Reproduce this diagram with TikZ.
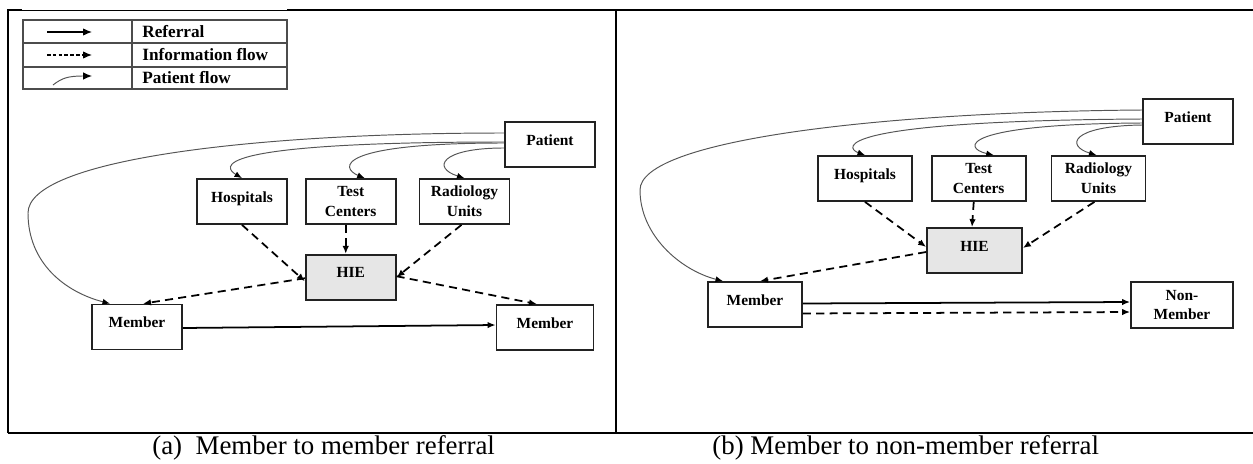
\documentclass[tikz,border=0pt]{standalone}
\usepackage{fontspec}
\setmainfont{Liberation Serif}
\usepackage{tikz}
\usetikzlibrary{arrows.meta}
\usetikzlibrary{calc}
\usetikzlibrary{positioning}
\definecolor{tikz-block}{HTML}{222222}
\definecolor{tikz-hie}{HTML}{E6E6E6}
\definecolor{tikz-flow}{HTML}{555555}
\tikzset{node distance=0.6cm, auto, every text node part/.style={align=center, font={\bfseries\fontsize{8.8}{11.3}\selectfont}}}
\tikzstyle{ln} = [draw, line width=1pt, -{Latex[length=1.6mm, width=1.3mm]}]
\tikzstyle{info} = [ln, dash pattern=on 4.6pt off 3pt]
\tikzstyle{pf} = [draw=tikz-flow, line width=0.55pt, -{Latex[length=1.5mm, width=1.2mm, color=black]}]
\tikzstyle{frame} = [draw=black, line width=1.2pt]
\tikzstyle{legend-line} = [draw=black!70, line width=0.6pt]

\begin{document}
\begin{tikzpicture}[
        x=0.02cm, y=-0.02cm,
        wide-block/.style={rectangle, draw=tikz-block, fill=white, line width=1pt, minimum width=1.8cm, minimum height=0.9cm, inner sep=0pt},
        one-line/.style={text height=0.21cm, text depth=0.19cm},
        hie-block/.style={wide-block, one-line, fill=tikz-hie},
        legend-text/.style={anchor=west, inner sep=0pt, every text node part/.style={align=left, font={\bfseries\fontsize{9.8}{11}\selectfont}}},
        caption-text/.style={anchor=base west, inner sep=0pt, every text node part/.style={align=left, font={\fontsize{15.3}{18}\selectfont}}}
      ]
      \useasboundingbox (0,0) rectangle (1253,463);
      % frame
      \draw[frame] (8,433) -- (8,10) -- (22,10);
      \draw[frame] (287,10) -- (1253,10);
      \draw[line width=0.5pt] (22,10) -- (287,10);
      \draw[frame] (616,10) -- (616,433);
      \draw[frame] (8,433) -- (1253,433);

      % legend
      \draw[legend-line] (23,20) rectangle (287,89);
      \draw[legend-line] (23,43) -- (287,43) (23,67) -- (287,67) (132,20) -- (132,89);
      \coordinate (ref-s) at (47,32);   \coordinate (ref-e) at (92,32);
      \coordinate (inf-s) at (47,55);   \coordinate (inf-e) at (92,55);
      \coordinate (pfl-s) at (53,85);   \coordinate (pfl-e) at (92,76);
      \draw[ln, line width=0.7pt, -{Latex[length=1.8mm, width=1.5mm]}]  (ref-s) -- (ref-e);
      \draw[ln, line width=0.7pt, dash pattern=on 2pt off 1.3pt, -{Latex[length=1.8mm, width=1.5mm]}] (inf-s) -- (inf-e);
      \draw[pf, -{Latex[length=1.8mm, width=1.5mm, color=black]}]        (pfl-s) .. controls (62,78) and (68,76) .. (pfl-e);
      \node[legend-text] (ref-t) at (142,31.5) {Referral};
      \node[legend-text] (inf-t) at (142,55)   {Information flow};
      \node[legend-text] (pfl-t) at (142,78)   {Patient flow};

      % panel (a)
      \node[wide-block, one-line]        (pat-a)  at (550,144.5)          {Patient};
      \node[wide-block, one-line]        (hos-a)  at (242,201.5)          {Hospitals};
      \node[wide-block]                  (tc-a)   [right=0.34cm of hos-a] {Test\\Centers};
      \node[wide-block]                  (rad-a)  [right=0.44cm of tc-a]  {Radiology\\Units};
      \node[hie-block]                   (hie-a)  [below=0.58cm of tc-a]  {HIE};
      \node[wide-block, one-line]        (mem-a)  at (137,327)            {Member};
      \node[wide-block, one-line, minimum width=1.94cm] (mem-a2) at (545,327.5) {Member};
      \draw[pf]   ($(pat-a.west)+(0,-11.5)$) .. controls (250,133) and (28,160) .. (28,213)
                  .. controls (28,263) and (65,292) .. ($(mem-a.north)+(-27,0)$);
      \draw[pf]   ($(pat-a.west)+(0,-2.5)$)  .. controls (200,142) and (225,168) .. (hos-a.north);
      \draw[pf]   ($(pat-a.west)+(0,-1.5)$)  .. controls (335,143) and (340,168) .. ($(tc-a.north)+(14,0)$);
      \draw[pf]   ($(pat-a.west)+(0,3.5)$)   .. controls (440,148) and (432,168) .. (rad-a.north);
      \draw[info] (hos-a.south)              -- ($(hie-a.west)+(0,4)$);
      \draw[info] ($(tc-a.south)+(-5,0)$)    -- ($(hie-a.north)+(-5,0)$);
      \draw[info] ($(rad-a.south)+(-3,0)$)   -- (hie-a.east);
      \draw[info] ($(hie-a.west)+(0,1)$)     -- ($(mem-a.north)+(6,0)$);
      \draw[info] ($(hie-a.east)+(0,-1)$)    -- ($(mem-a2.north)+(-8,0)$);
      \draw[ln]   ($(mem-a.east)+(0,1)$)     -- ($(mem-a2.west)+(0,-2.5)$);

      % panel (b)
      \node[wide-block, one-line]        (pat-b)  at (1188,121.5)         {Patient};
      \node[wide-block, one-line, minimum width=1.88cm] (hos-b) at (865,178.5) {Hospitals};
      \node[wide-block, minimum width=1.88cm] (tc-b)  [right=0.36cm of hos-b] {Test\\Centers};
      \node[wide-block, minimum width=1.88cm] (rad-b) [right=0.48cm of tc-b]  {Radiology\\Units};
      \node[hie-block, minimum width=1.9cm]   (hie-b) at (974.5,250.5)        {HIE};
      \node[wide-block, one-line, minimum width=1.88cm] (mem-b) at (755,304.5) {Member};
      \node[wide-block, minimum width=2.04cm, minimum height=0.92cm] (nm-b) at (1182,305) {Non-\\Member};
      \draw[pf]   ($(pat-b.west)+(0,-11.5)$) .. controls (880,112) and (640,140) .. (640,190)
                  .. controls (640,235) and (680,270) .. ($(mem-b.north)+(-32,0)$);
      \draw[pf]   ($(pat-b.west)+(0,-2.5)$)  .. controls (830,121) and (845,148) .. (hos-b.north);
      \draw[pf]   ($(pat-b.west)+(0,1.5)$)   .. controls (960,124) and (962,148) .. ($(tc-b.north)+(15,0)$);
      \draw[pf]   ($(pat-b.west)+(0,3.5)$)   .. controls (1070,126) and (1066,146) .. ($(rad-b.north)+(-2,0)$);
      \draw[info] (hos-b.south)              -- ($(hie-b.west)+(0,-3.5)$);
      \draw[info] ($(tc-b.south)+(-5,0)$)    -- ($(hie-b.north)+(-2.5,0)$);
      \draw[info] ($(rad-b.south)+(-4,0)$)   -- ($(hie-b.east)+(0,-2.5)$);
      \draw[info] ($(hie-b.west)+(0,1.5)$)   -- ($(mem-b.north)+(5,0)$);
      \draw[ln]   ($(mem-b.east)+(0,-1)$)    -- ($(nm-b.west)+(0,-3)$);
      \draw[info] ($(mem-b.east)+(0,9)$)     -- ($(nm-b.west)+(0,7)$);

      % captions
      \node[caption-text] (cap-a) at (152,454) {(a)\enspace Member to member referral};
      \node[caption-text] (cap-b) at (712,454) {(b) Member to non-member referral};
    \end{tikzpicture}
\end{document}
